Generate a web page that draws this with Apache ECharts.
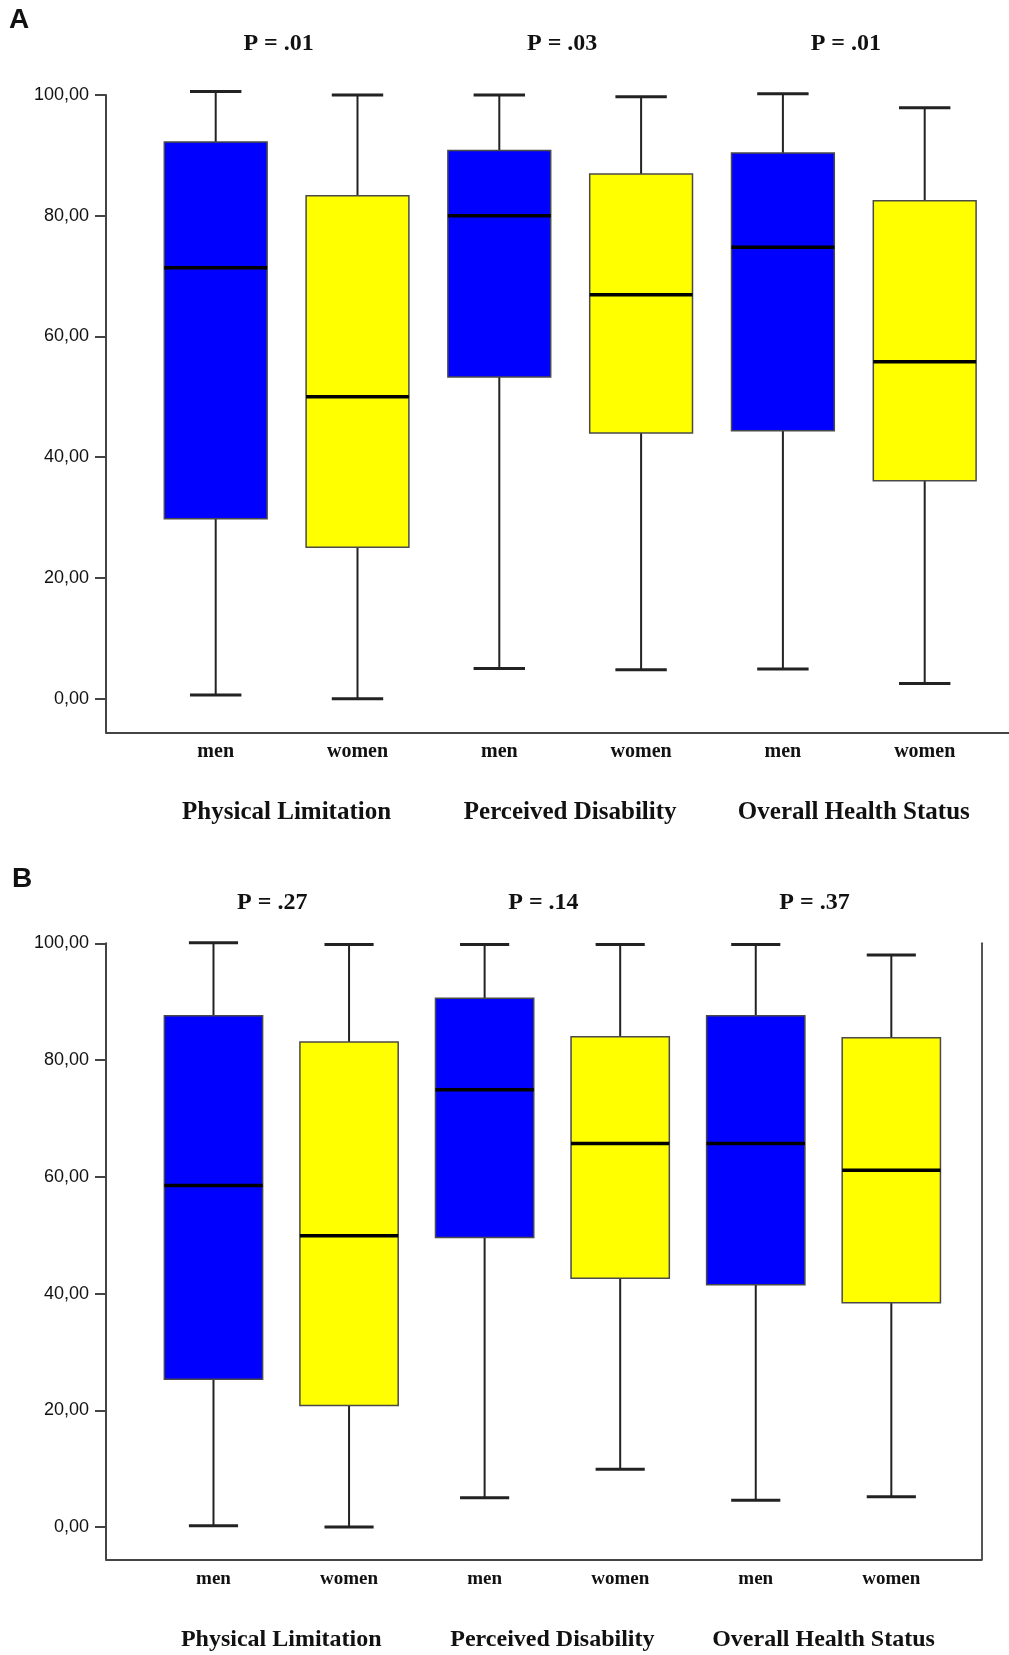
<!DOCTYPE html>
<html><head><meta charset="utf-8">
<script src="https://cdn.jsdelivr.net/npm/echarts@6/dist/echarts.min.js"></script>
<style>html,body{margin:0;padding:0;background:#fff}#c{width:1009px;height:1655px}</style>
</head><body><div id="c"></div>
<script>
const groups = ['Physical Limitation', 'Perceived Disability', 'Overall Health Status'];
const sexes = ['men', 'women'];
const yTicks = [0, 20, 40, 60, 80, 100];
const pLabelsA = ['P = .01', 'P = .03', 'P = .01'];
const pLabelsB = ['P = .27', 'P = .14', 'P = .37'];
// each box: [min, Q1, median, Q3, max]; order PL men, PL women, PD men, PD women, OHS men, OHS women
const boxesA = [
  [0.6, 29.8, 71.4, 92.2, 100.6],
  [0.0, 25.1, 50.0, 83.3, 100.0],
  [5.0, 53.3, 80.0, 90.8, 100.0],
  [4.8, 44.0, 66.9, 86.9, 99.7],
  [4.9, 44.4, 74.8, 90.4, 100.2],
  [2.5, 36.1, 55.8, 82.5, 97.9]
];
const boxesB = [
  [0.2, 25.3, 58.5, 87.6, 100.1],
  [0.0, 20.8, 49.9, 83.1, 99.8],
  [5.0, 49.6, 74.9, 90.6, 99.8],
  [9.9, 42.6, 65.7, 84.0, 99.8],
  [4.6, 41.5, 65.7, 87.6, 99.8],
  [5.2, 38.4, 61.1, 83.8, 98.0]
];
const sexColors = ['#0000FF', '#FFFF00'];

const boxCats = [];
groups.forEach(g => sexes.forEach(s => boxCats.push(g + '|' + s)));

const SERIF = '"Liberation Serif", "Times New Roman", serif';
const SANS = '"Liberation Sans", Arial, sans-serif';
const AX = '#444';

function renderBox(params, api) {
  const i = api.value(0);
  const lo = api.coord([i, api.value(1)]);
  const q1 = api.coord([i, api.value(2)]);
  const md = api.coord([i, api.value(3)]);
  const q3 = api.coord([i, api.value(4)]);
  const hi = api.coord([i, api.value(5)]);
  const band = api.size([1, 0])[0];
  const bw = band * 0.725;
  const cw = bw * 0.5;
  const cx = lo[0];
  const fill = sexColors[i % 2];
  return {
    type: 'group',
    children: [
      { type: 'line', shape: { x1: cx, y1: hi[1], x2: cx, y2: q3[1] }, style: { stroke: '#222', lineWidth: 2 } },
      { type: 'line', shape: { x1: cx, y1: lo[1], x2: cx, y2: q1[1] }, style: { stroke: '#222', lineWidth: 2 } },
      { type: 'line', shape: { x1: cx - cw / 2, y1: hi[1], x2: cx + cw / 2, y2: hi[1] }, style: { stroke: '#222', lineWidth: 3 } },
      { type: 'line', shape: { x1: cx - cw / 2, y1: lo[1], x2: cx + cw / 2, y2: lo[1] }, style: { stroke: '#222', lineWidth: 3 } },
      { type: 'rect', shape: { x: cx - bw / 2, y: q3[1], width: bw, height: q1[1] - q3[1] }, style: { fill: fill, stroke: '#4a4a4a', lineWidth: 1.5 } },
      { type: 'line', shape: { x1: cx - bw / 2, y1: md[1], x2: cx + bw / 2, y2: md[1] }, style: { stroke: '#000', lineWidth: 3.5 } }
    ]
  };
}

function frameX(gi) {
  return { gridIndex: gi, type: 'value', min: 0, max: 1,
    axisLine: { show: true, onZero: false, lineStyle: { color: AX, width: 2 } },
    axisTick: { show: false }, axisLabel: { show: false }, splitLine: { show: false } };
}
function catX(gi, margin, fs) {
  return { gridIndex: gi, type: 'category', data: boxCats, position: 'bottom',
    axisLine: { show: false, onZero: false }, axisTick: { show: false },
    axisLabel: { interval: 0, margin: margin, fontFamily: SERIF, fontWeight: 'bold', fontSize: fs, color: '#111',
      formatter: v => v.split('|')[1] }, splitLine: { show: false } };
}
function pX(gi, data, margin, fs, pad) {
  return { gridIndex: gi, type: 'category', data: data, position: 'top',
    axisLine: { show: false, onZero: false }, axisTick: { show: false },
    axisLabel: { interval: 0, margin: margin, fontFamily: SERIF, fontWeight: 'bold', fontSize: fs, color: '#111', padding: pad },
    splitLine: { show: false } };
}
function groupX(gi, offset, fs) {
  return { gridIndex: gi, type: 'category', data: groups, position: 'bottom', offset: offset,
    axisLine: { show: false, onZero: false }, axisTick: { show: false },
    axisLabel: { interval: 0, margin: 8, fontFamily: SERIF, fontWeight: 'bold', fontSize: fs, color: '#111' },
    splitLine: { show: false } };
}
function frameY(gi, min) {
  return { gridIndex: gi, type: 'value', min: min, max: 100,
    axisLine: { show: true, onZero: false, lineStyle: { color: AX, width: 2 } },
    axisTick: { show: true, inside: false, length: 11, customValues: yTicks, lineStyle: { color: AX, width: 2 } },
    axisLabel: { customValues: yTicks, margin: 17, fontFamily: SANS, fontSize: 18, color: '#111',
      formatter: v => Number(v).toFixed(2).replace('.', ',') },
    splitLine: { show: false } };
}
function dataY(gi, min) {
  return { gridIndex: gi, type: 'value', min: min, max: 100, show: false, splitLine: { show: false } };
}

const minA = -5.566, minB = -5.53;

const option = {
  animation: false,
  backgroundColor: '#fff',
  title: [
    { text: 'A', left: 9, top: 6, padding: 0, textStyle: { fontFamily: SANS, fontWeight: 'bold', fontSize: 28, color: '#111' } },
    { text: 'B', left: 12, top: 865, padding: 0, textStyle: { fontFamily: SANS, fontWeight: 'bold', fontSize: 28, color: '#111' } }
  ],
  grid: [
    { left: 106, top: 95, width: 903, height: 637.3 },
    { left: 144.8, top: 95, width: 850.8, height: 637.3 },
    { left: 106, top: 943.3, width: 875.7, height: 616 },
    { left: 145.7, top: 943.3, width: 813.4, height: 616 }
  ],
  xAxis: [
    frameX(0),
    catX(1, 10, 20),
    pX(1, pLabelsA, 39, 24, [0, 16, 0, 0]),
    groupX(1, 60, 25),
    frameX(2),
    catX(3, 10, 19),
    pX(3, pLabelsB, 29, 24, [0, 18, 0, 0]),
    groupX(3, 60, 24)
  ],
  yAxis: [
    frameY(0, minA),
    dataY(1, minA),
    frameY(2, minB),
    { gridIndex: 2, type: 'value', min: minB, max: 100, position: 'right',
      axisLine: { show: true, onZero: false, lineStyle: { color: '#555', width: 2 } },
      axisTick: { show: false }, axisLabel: { show: false }, splitLine: { show: false } },
    dataY(3, minB)
  ],
  series: [
    { type: 'custom', xAxisIndex: 1, yAxisIndex: 1, renderItem: renderBox,
      encode: { x: 0, y: [1, 2, 3, 4, 5] }, data: boxesA.map((b, i) => [i].concat(b)) },
    { type: 'custom', xAxisIndex: 5, yAxisIndex: 4, renderItem: renderBox,
      encode: { x: 0, y: [1, 2, 3, 4, 5] }, data: boxesB.map((b, i) => [i].concat(b)) }
  ]
};
const chart = echarts.init(document.getElementById('c'), null, { renderer: 'canvas' });
chart.setOption(option);
</script>
</body></html>
